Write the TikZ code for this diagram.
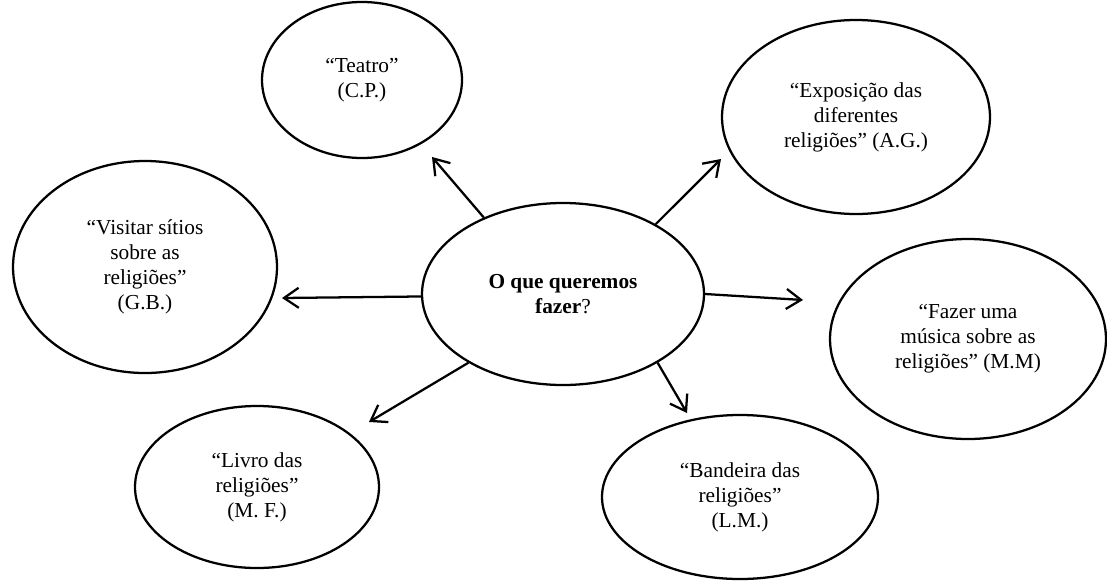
\documentclass[tikz,border=0pt]{standalone}
\usepackage{fontspec}
\setmainfont{Liberation Serif}
\usetikzlibrary{shapes.geometric,arrows.meta}
\begin{document}
\begin{tikzpicture}[x=0.75pt,y=-0.75pt,
  bubble/.style 2 args={ellipse, draw, line width=1.7pt, inner sep=0pt,
    minimum width=#1*1.5pt, minimum height=#2*1.5pt,
    align=center, font=\fontsize{16}{18.75}\selectfont},
  link/.style={line width=1.7pt, -{Straight Barb[length=11pt,width=15pt]}}]
\useasboundingbox (0,0) rectangle (1107,582);

% central question
\node[bubble={141}{91}] (c) at (563,294) {\textbf{O que queremos}\\ \textbf{fazer}?};

% proposals
\node[bubble={100}{78}]  (teatro)   at (362,80)  {“Teatro”\\ (C.P.)};
\node[bubble={134}{97}]  (expo)     at (856,117) {“Exposição das\\ diferentes\\ religiões” (A.G.)};
\node[bubble={132}{106}] (visitar)  at (145,267) {“Visitar sítios\\ sobre as\\ religiões”\\ (G.B.)};
\node[bubble={138}{100}] (musica)   at (968,339) {“Fazer uma\\ música sobre as\\ religiões” (M.M)};
\node[bubble={122}{81}]  (livro)    at (257,487) {“Livro das\\ religiões”\\ (M. F.)};
\node[bubble={138}{82}]  (bandeira) at (740,497) {“Bandeira das\\ religiões”\\ (L.M.)};

% arrow ends, just short of each proposal
\coordinate (toTeatro)   at (432,157);
\coordinate (toExpo)     at (721,159);
\coordinate (toVisitar)  at (282,298);
\coordinate (toMusica)   at (803,300);
\coordinate (toLivro)    at (369,422);
\coordinate (toBandeira) at (687,413);

\draw[link] (c.136.1)  -- (toTeatro);
\draw[link] (c.37.7)   -- (toExpo);
\draw[link] (c.181.6)  -- (toVisitar);
\draw[link] (c.-0.4)   -- (toMusica);
\draw[link] (c.216.2)  -- (toLivro);
\draw[link] (c.-36.5)  -- (toBandeira);
\end{tikzpicture}
\end{document}
